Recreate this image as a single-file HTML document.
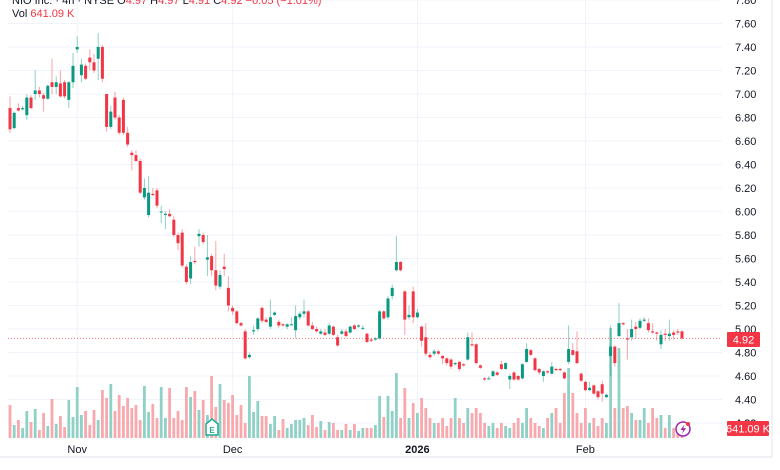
<!DOCTYPE html>
<html><head><meta charset="utf-8">
<style>
body{margin:0;background:#fff;font-family:"Liberation Sans",sans-serif;}
#wrap{position:relative;width:780px;height:470px;overflow:hidden;background:#fff;}
svg text{font-family:"Liberation Sans",sans-serif;}
</style></head>
<body>
<div id="wrap">
<svg id="chart" width="780" height="470"></svg>
</div>
<script>
const opens=[6.88,6.71,6.88,6.87,6.82,6.97,7.0,7.03,6.99,6.96,7.1,7.06,7.09,7.1,6.95,7.1,7.38,7.16,7.24,7.31,7.27,7.3,7.4,7.0,6.72,6.97,6.8,6.95,6.67,6.5,6.48,6.43,6.12,5.97,6.15,6.18,6.0,5.97,5.98,5.93,5.8,5.82,5.53,5.43,5.58,5.79,5.8,5.59,5.62,5.5,5.36,5.53,5.35,5.18,5.15,5.05,4.98,4.76,4.98,5.0,5.18,5.08,5.02,5.12,5.06,5.04,5.02,5.04,4.99,5.1,5.13,5.15,5.03,5.0,4.96,4.97,4.96,5.02,4.93,4.96,4.98,4.97,5.03,5.02,5.01,4.96,4.91,4.91,4.92,5.15,5.1,5.28,5.5,5.57,5.32,5.1,5.32,5.1,5.02,4.93,4.78,4.79,4.81,4.77,4.75,4.74,4.7,4.72,4.7,4.74,4.87,4.87,4.69,4.58,4.58,4.6,4.63,4.7,4.66,4.57,4.63,4.6,4.58,4.72,4.82,4.75,4.66,4.6,4.64,4.62,4.66,4.66,4.63,4.72,4.82,4.81,4.62,4.55,4.48,4.52,4.47,4.53,4.42,4.77,4.85,4.94,5.05,4.92,4.93,5.02,5.01,5.07,5.05,4.98,4.97,4.87,4.96,4.94,4.97,4.98,4.98];
const closes=[6.70,6.84,6.86,6.88,6.97,6.88,7.03,7.0,6.96,7.07,7.06,7.1,6.98,6.98,7.1,7.24,7.40,7.25,7.13,7.27,7.2,7.4,7.13,6.72,6.85,6.8,6.67,6.67,6.57,6.48,6.43,6.16,6.2,6.16,6.14,6.05,6.0,5.98,5.96,5.8,5.73,5.54,5.4,5.57,5.57,5.81,5.74,5.61,5.5,5.37,5.46,5.51,5.2,5.15,5.05,5.03,4.75,4.78,4.99,5.09,5.07,5.06,5.1,5.14,5.03,5.03,5.04,5.04,5.11,5.13,5.15,5.03,5.0,4.98,4.98,4.95,5.03,4.95,4.86,4.98,4.94,5.02,5.0,5.03,5.01,4.89,4.9,4.92,5.15,5.09,5.26,5.35,5.57,5.5,5.08,5.12,5.1,5.14,4.9,4.79,4.76,4.81,4.79,4.75,4.71,4.68,4.71,4.66,4.69,4.93,4.86,4.71,4.67,4.57,4.58,4.64,4.61,4.66,4.71,4.6,4.57,4.57,4.7,4.83,4.78,4.65,4.63,4.64,4.63,4.68,4.65,4.65,4.58,4.83,4.78,4.71,4.56,4.48,4.5,4.45,4.42,4.45,4.44,4.85,4.71,5.05,5.04,4.91,5.0,5.0,5.07,5.08,4.99,4.97,4.96,4.95,4.95,4.96,4.95,4.97,4.92];
const highs=[6.98,6.85,6.92,6.9,7.0,6.99,7.2,7.06,7.01,7.08,7.3,7.15,7.2,7.12,7.11,7.35,7.49,7.3,7.26,7.38,7.34,7.52,7.42,7.0,6.9,7.02,6.82,6.97,6.72,6.52,6.52,6.45,6.28,6.3,6.2,6.2,6.05,6.0,6.02,5.96,5.82,5.85,5.55,5.62,5.7,5.85,5.82,5.8,5.64,5.75,5.5,5.64,5.45,5.2,5.16,5.06,5.0,4.8,5.03,5.1,5.19,5.1,5.25,5.15,5.08,5.05,5.05,5.1,5.2,5.15,5.25,5.16,5.06,5.02,5.0,5.0,5.05,5.03,4.95,5.0,5.0,5.03,5.04,5.04,5.03,4.97,4.92,4.93,5.16,5.16,5.28,5.38,5.79,5.58,5.33,5.2,5.36,5.17,5.03,5.05,4.8,4.83,4.82,4.78,4.76,4.75,4.72,4.73,4.71,4.97,4.97,4.88,4.7,4.59,4.6,4.65,4.64,4.73,4.72,4.62,4.64,4.61,4.71,4.88,4.83,4.76,4.67,4.65,4.65,4.72,4.67,4.67,4.64,5.03,4.88,4.98,4.63,4.56,4.55,4.53,4.48,4.56,4.45,5.03,4.86,5.22,5.06,5.0,5.08,5.06,5.09,5.1,5.09,5.05,4.98,4.99,5.0,5.08,4.99,5.0,4.99];
const lows=[6.67,6.70,6.85,6.86,6.78,6.87,6.95,6.97,6.85,6.95,7.0,7.0,6.97,6.96,6.88,7.05,7.35,7.1,7.12,7.2,7.18,7.12,7.1,6.68,6.7,6.78,6.65,6.65,6.55,6.35,6.42,6.15,6.1,5.95,6.13,6.03,5.9,5.85,5.95,5.78,5.67,5.52,5.38,5.38,5.55,5.7,5.72,5.45,5.45,5.33,5.34,5.45,5.15,5.12,5.04,5.02,4.74,4.75,4.95,4.98,5.05,5.05,5.0,5.11,5.01,5.02,5.0,5.03,4.92,5.08,5.1,5.02,4.99,4.97,4.95,4.94,4.95,4.94,4.85,4.95,4.93,4.96,4.99,5.01,4.99,4.88,4.89,4.9,4.91,5.08,5.08,5.25,5.49,5.49,4.95,5.08,5.05,5.09,4.85,4.77,4.74,4.77,4.78,4.7,4.69,4.66,4.69,4.64,4.68,4.73,4.85,4.7,4.66,4.56,4.57,4.59,4.6,4.65,4.65,4.49,4.56,4.56,4.57,4.71,4.77,4.64,4.61,4.55,4.62,4.61,4.64,4.64,4.57,4.7,4.77,4.7,4.55,4.47,4.47,4.44,4.4,4.38,4.41,4.6,4.68,4.93,5.03,4.74,4.9,4.92,5.0,5.06,4.97,4.96,4.9,4.83,4.9,4.9,4.91,4.95,4.91];
const volumes=[33,13,18,10,27,16,29,8,25,12,39,14,22,11,38,21,51,23,27,13,28,18,48,40,54,27,43,32,40,30,33,18,52,26,34,20,51,20,50,20,27,18,51,41,47,28,38,23,62,31,54,38,35,43,23,33,15,62,26,37,22,22,14,22,8,19,10,14,18,18,20,13,23,11,17,8,16,15,8,8,14,8,14,7,10,10,10,13,42,21,42,27,65,20,50,20,35,25,40,30,20,15,15,20,12,20,40,20,15,30,25,30,25,15,12,15,10,15,12,10,15,20,15,30,20,15,12,10,20,25,30,15,45,70,45,25,15,30,15,20,12,20,15,110,30,90,30,32,25,18,18,30,15,30,20,23,10,23,10,8,8];
const priceTicks=["7.80","7.60","7.40","7.20","7.00","6.80","6.60","6.40","6.20","6.00","5.80","5.60","5.40","5.20","5.00","4.80","4.60","4.40","4.20"];
const timeLabels=["Nov","Dec","2026","Feb"];
const timeLabelIdx=[16,53,97,137];
const lastPrice=4.92;

const NS="http://www.w3.org/2000/svg";
const svg=document.getElementById('chart');
const X0=10, X1=682;
const step=(X1-X0)/(closes.length-1);
const xs=i=>X0+i*step;
const ys=p=>329-(p-5)*117.5;
const VOL_BASE=438, VOL_MAX=110, VOL_H=110;
const yv=v=>VOL_BASE-v/VOL_MAX*VOL_H;
const GREEN="#089981", RED="#f23645";
function mk(tag,attrs,parent){const e=document.createElementNS(NS,tag);for(const k in attrs)e.setAttribute(k,attrs[k]);(parent||svg).appendChild(e);return e;}

// grid
const grid=mk('g',{});


priceTicks.forEach(t=>{const y=ys(parseFloat(t));const l=mk('line',{x1:8,x2:722,y1:y,y2:y,stroke:'#f0f3fa','stroke-width':1},grid);

});
timeLabelIdx.forEach(i=>{const x=xs(i);const l=mk('line',{x1:x,x2:x,y1:0,y2:438,stroke:'#f0f3fa','stroke-width':1},grid);

});

// volume
const vg=mk('g',{});


volumes.forEach((v,i)=>{const up=closes[i]>=opens[i];const y=yv(v);
const r=mk('rect',{x:xs(i)-1.4,y:y,width:2.8,height:VOL_BASE-y,fill:up?'#8fd1c6':'#f7a9ae'},vg);

});

// last price line
const pl=mk('line',{x1:8,x2:722,y1:ys(lastPrice),y2:ys(lastPrice),stroke:RED,'stroke-width':1,'stroke-dasharray':'1 2',opacity:0.7});



// candles
const cg=mk('g',{});


closes.forEach((c,i)=>{const o=opens[i];const up=c>=o;const col=up?GREEN:RED;const x=xs(i);
const w=mk('line',{x1:x,x2:x,y1:ys(highs[i]),y2:ys(lows[i]),stroke:col,'stroke-width':1,opacity:0.45},cg);


const top=ys(Math.max(o,c)),bot=ys(Math.min(o,c));
const b=mk('rect',{x:x-1.5,y:top,width:3,height:Math.max(1,bot-top),fill:col},cg);

});

// price axis labels
priceTicks.forEach(t=>{const y=ys(parseFloat(t));if(y>430)return;const tx=mk('text',{x:735,y:y+4,'font-size':11,fill:'#131722'});tx.textContent=t;

});
// 4.20 label partially
{const tx=mk('text',{x:735,y:ys(4.2)+4,'font-size':11,fill:'#131722'});tx.textContent="4.20";

}

// time labels
timeLabels.forEach((t,k)=>{const tx=mk('text',{x:xs(timeLabelIdx[k]),y:453,'font-size':11,fill:'#131722','text-anchor':'middle','font-weight':t==='2026'?'bold':'normal'});tx.textContent=t;

});

// borders
mk('line',{x1:0,x2:772,y1:457,y2:457,stroke:'#e0e3eb'});
mk('line',{x1:772,x2:772,y1:0,y2:457,stroke:'#e0e3eb'});
</script>
<svg width="780" height="470" style="position:absolute;left:0;top:0;pointer-events:none">
<text x="12" y="4" font-size="11" fill="#131722">NIO Inc. · 4h · NYSE  O<tspan fill="#f23645">4.97</tspan> H<tspan fill="#f23645">4.97</tspan> L<tspan fill="#f23645">4.91</tspan> C<tspan fill="#f23645">4.92</tspan> <tspan fill="#f23645">−0.05 (−1.01%)</tspan></text>
<text x="12" y="17" font-size="11" fill="#131722">Vol <tspan fill="#f23645">641.09 K</tspan></text>
<g><rect x="727" y="332" width="33" height="15" rx="1" fill="#f23645"/><text x="743.5" y="343.5" font-size="11" fill="#fff" text-anchor="middle">4.92</text></g>
<g><rect x="727" y="421" width="42" height="15" rx="1" fill="#f23645"/><text x="748" y="432.5" font-size="11" fill="#fff" text-anchor="middle">641.09 K</text></g>
<g><path d="M206 424 L212 419 L218 424 L218 435 L206 435 Z" fill="#fff" stroke="#22ab94" stroke-width="1.5"/><text x="212" y="433" font-size="8" font-weight="bold" fill="#22ab94" text-anchor="middle">E</text></g>
<g><circle cx="683" cy="429" r="7" fill="#fff" stroke="#9c27b0" stroke-width="1.5"/><path d="M684.5 424.5 L680.5 430 L683.3 430 L682 434 L686 428.3 L683.3 428.3 Z" fill="#9c27b0"/><circle cx="688" cy="424" r="2" fill="#f23645"/></g>
</svg>
</body></html>
